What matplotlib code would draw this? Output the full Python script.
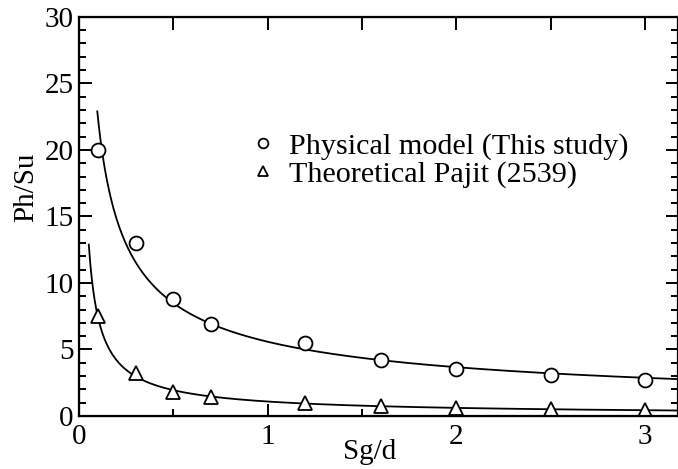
import matplotlib.pyplot as plt
import numpy as np
from matplotlib.ticker import MultipleLocator

plt.rcParams['font.family'] = ['Liberation Serif', 'DejaVu Serif']

# Data
sg_d = np.array([0.1, 0.3, 0.5, 0.7, 1.2, 1.6, 2.0, 2.5, 3.0])
physical = np.array([20.0, 13.0, 8.8, 6.9, 5.5, 4.2, 3.55, 3.1, 2.7])
theoretical = np.array([7.5, 3.2, 1.8, 1.4, 0.95, 0.75, 0.6, 0.5, 0.45])

# Power-law trend lines fitted to each series
def power_fit(x, y):
    b, loga = np.polyfit(np.log(x), np.log(y), 1)
    return np.exp(loga), b

fig = plt.figure(figsize=(6.78, 4.69), dpi=100)
ax = fig.add_axes([0.1165, 0.113, 0.8835, 0.851])

a1, b1 = power_fit(sg_d, physical)
x1 = np.linspace(0.097, 3.2, 400)
ax.plot(x1, a1 * x1 ** b1, color='black', lw=1.3)

a2, b2 = power_fit(sg_d, theoretical)
x2 = np.linspace(0.052, 3.2, 400)
ax.plot(x2, a2 * x2 ** b2, color='black', lw=1.3)

ax.plot(sg_d, physical, 'o', ms=10, mfc='white', mec='black', mew=1.3,
        label='Physical model (This study)')
ax.plot(sg_d, theoretical, '^', ms=10, mfc='white', mec='black', mew=1.3,
        label='Theoretical Pajit (2539)')

ax.set_xlim(0, 3.175)
ax.set_ylim(0, 30)
ax.xaxis.set_major_locator(MultipleLocator(1))
ax.xaxis.set_minor_locator(MultipleLocator(0.5))
ax.yaxis.set_major_locator(MultipleLocator(5))
ax.yaxis.set_minor_locator(MultipleLocator(1))
ax.tick_params(which='both', direction='in', width=1.4, labelsize=21,
               top=False, right=True)
ax.tick_params(which='major', length=9)
ax.tick_params(which='minor', length=5)
ax.tick_params(axis='x', pad=6)
ax.tick_params(axis='y', pad=4)
for s in ax.spines.values():
    s.set_linewidth(1.6)

# top ticks every 0.5, all the same length
top = ax.twiny()
top.set_xlim(ax.get_xlim())
top.xaxis.set_major_locator(MultipleLocator(0.5))
top.tick_params(direction='in', length=9, width=1.4, labeltop=False)

ax.set_xlabel('Sg/d', fontsize=21)
ax.set_ylabel('Ph/Su', fontsize=21)
ax.xaxis.set_label_coords(0.486, -0.09, transform=ax.transAxes)
ax.xaxis.label.set_va('center')
ax.yaxis.set_label_coords(-0.088, 0.574, transform=ax.transAxes)
ax.yaxis.label.set_va('center')

ax.legend(loc='center left', bbox_to_anchor=(0.257, 0.64), frameon=False,
          fontsize=21.7, markerscale=0.7, handlelength=1.0, handletextpad=0.35,
          labelspacing=0.02, borderpad=0)

fig.savefig('out.png', dpi=100)
